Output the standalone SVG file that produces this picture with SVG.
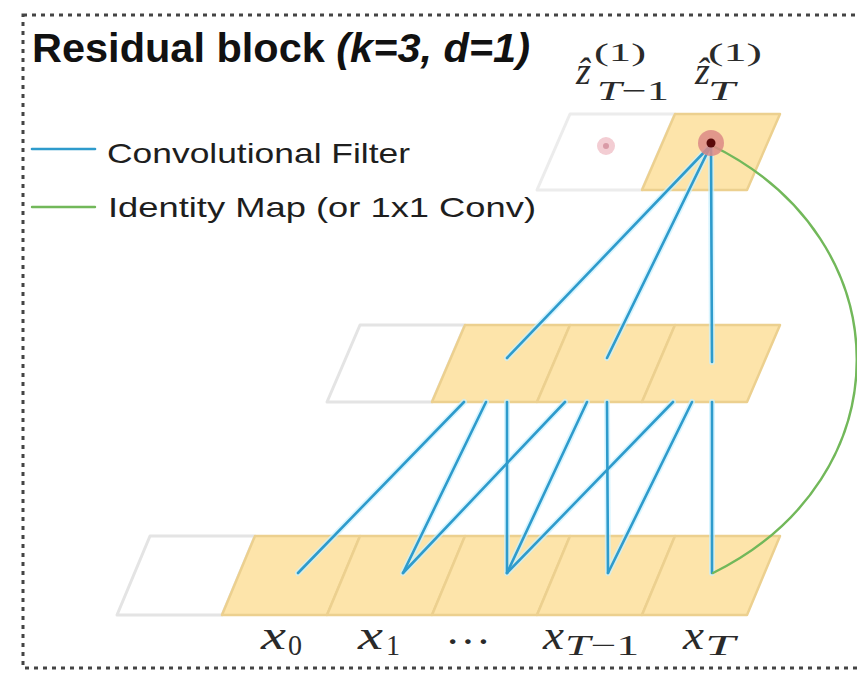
<svg xmlns="http://www.w3.org/2000/svg" width="857" height="677" viewBox="0 0 857 677">
  <style>
    .frame { fill: none; stroke: #444; stroke-width: 3; stroke-dasharray: 4 5; }
    .title { font-family: "Liberation Sans", Arial, sans-serif; font-weight: bold; font-size: 40px; fill: #111; }
    .legend { font-family: "Liberation Sans", Arial, sans-serif; font-size: 28px; fill: #1e1e1e; }
    .math { font-family: "Liberation Serif", "DejaVu Serif", serif; fill: #2a2a2a; }
    .it { font-style: italic; }
    .cell { fill: #fde4aa; stroke: #ecd08f; stroke-width: 2.5; stroke-linejoin: round; }
    .empty { fill: #ffffff; stroke: #e4e4e4; stroke-width: 3; stroke-linejoin: round; }
    .halo { fill: none; stroke: #c8f1ff; stroke-width: 6; stroke-linecap: round; opacity: 0.7; }
    .conv { fill: none; stroke: #2e9bcc; stroke-width: 2.6; stroke-linecap: round; }
    .ident { fill: none; stroke: #72b85a; stroke-width: 2.4; stroke-linecap: round; }
  </style>

  <rect class="frame" x="23" y="15" width="860" height="653"/>

  <g id="title">
    <text class="title" x="32" y="62" textLength="498" lengthAdjust="spacingAndGlyphs">Residual block <tspan font-style="italic">(k=3, d=1)</tspan></text>
  </g>

  <g id="legend">
    <line x1="32" y1="149" x2="95" y2="149" class="conv"/>
    <text class="legend" x="107" y="163" textLength="303" lengthAdjust="spacingAndGlyphs">Convolutional Filter</text>
    <line x1="32" y1="207" x2="95" y2="207" class="ident"/>
    <text class="legend" x="108" y="217" textLength="428" lengthAdjust="spacingAndGlyphs">Identity Map (or 1x1 Conv)</text>
  </g>

  <!-- top layer: z_hat outputs -->
  <g id="top-row">
    <g id="z_T-1">
      <polygon class="empty" points="570,114 675,114 642,190 537,190" style="stroke:#ececec"/>
      <circle cx="606" cy="146" r="9" fill="#f3cdd3"/>
      <circle cx="606" cy="146" r="3" fill="#d99aa6"/>
      <text class="math it" x="576" y="84" font-size="38">ẑ</text>
      <text class="math" x="594" y="61" font-size="26" textLength="52" lengthAdjust="spacingAndGlyphs">(1)</text>
      <text class="math" x="597" y="100" font-size="28" textLength="72" lengthAdjust="spacingAndGlyphs"><tspan font-style="italic">T</tspan>−1</text>
    </g>
    <g id="z_T">
      <polygon class="cell" points="675,114 780,114 747,190 642,190"/>
      <text class="math it" x="695" y="84" font-size="38">ẑ</text>
      <text class="math" x="708" y="61" font-size="26" textLength="54" lengthAdjust="spacingAndGlyphs">(1)</text>
      <text class="math it" x="708" y="100" font-size="28" textLength="27" lengthAdjust="spacingAndGlyphs">T</text>
    </g>
  </g>

  <!-- middle layer -->
  <g id="middle-row">
    <g id="h_pad"><polygon class="empty" points="360,325 465,325 432,402 327,402"/></g>
    <g id="h_T-2"><polygon class="cell" points="465,325 570,325 537,402 432,402"/></g>
    <g id="h_T-1"><polygon class="cell" points="570,325 675,325 642,402 537,402"/></g>
    <g id="h_T"><polygon class="cell" points="675,325 780,325 747,402 642,402"/></g>
  </g>

  <!-- bottom layer: inputs -->
  <g id="bottom-row">
    <g id="x_pad"><polygon class="empty" points="150,536 255,536 222,615 117,615"/></g>
    <g id="x_0">
      <polygon class="cell" points="255,536 360,536 327,615 222,615"/>
      <text class="math it" x="261" y="649" font-size="40" textLength="25" lengthAdjust="spacingAndGlyphs">x</text>
      <text class="math" x="288" y="655" font-size="29" textLength="14" lengthAdjust="spacingAndGlyphs">0</text>
    </g>
    <g id="x_1">
      <polygon class="cell" points="360,536 465,536 432,615 327,615"/>
      <text class="math it" x="358" y="649" font-size="40" textLength="25" lengthAdjust="spacingAndGlyphs">x</text>
      <text class="math" x="386" y="655" font-size="29" textLength="14" lengthAdjust="spacingAndGlyphs">1</text>
    </g>
    <g id="x_dots">
      <polygon class="cell" points="465,536 570,536 537,615 432,615"/>
      <text class="math" x="445" y="655" font-size="40" textLength="46" lengthAdjust="spacingAndGlyphs">···</text>
    </g>
    <g id="x_T-1">
      <polygon class="cell" points="570,536 675,536 642,615 537,615"/>
      <text class="math it" x="543" y="649" font-size="40" textLength="21" lengthAdjust="spacingAndGlyphs">x</text>
      <text class="math" x="565" y="655" font-size="29" textLength="74" lengthAdjust="spacingAndGlyphs"><tspan font-style="italic">T</tspan>−1</text>
    </g>
    <g id="x_T">
      <polygon class="cell" points="675,536 780,536 747,615 642,615"/>
      <text class="math it" x="683" y="649" font-size="40" textLength="21" lengthAdjust="spacingAndGlyphs">x</text>
      <text class="math it" x="705" y="655" font-size="29" textLength="30" lengthAdjust="spacingAndGlyphs">T</text>
    </g>
  </g>

  <g id="connectors">
    <g class="halos">
      <path class="halo" d="M711,145 L507,358 M711,145 L607,358 M711,145 L712,362"/>
      <path class="halo" d="M464,402 L298,573 M486,402 L403,573 M507,402 L507,573 M565,402 L403,573 M587,402 L507,573 M607,402 L608,573 M673,402 L507,573 M692,402 L608,573 M712,402 L712,573"/>
    </g>
    <line class="conv" x1="711" y1="145" x2="507" y2="358"/>
    <line class="conv" x1="711" y1="145" x2="607" y2="358"/>
    <line class="conv" x1="711" y1="145" x2="712" y2="362"/>
    <line class="conv" x1="464" y1="402" x2="298" y2="573"/>
    <line class="conv" x1="486" y1="402" x2="403" y2="573"/>
    <line class="conv" x1="507" y1="402" x2="507" y2="573"/>
    <line class="conv" x1="565" y1="402" x2="403" y2="573"/>
    <line class="conv" x1="587" y1="402" x2="507" y2="573"/>
    <line class="conv" x1="607" y1="402" x2="608" y2="573"/>
    <line class="conv" x1="673" y1="402" x2="507" y2="573"/>
    <line class="conv" x1="692" y1="402" x2="608" y2="573"/>
    <line class="conv" x1="712" y1="402" x2="712" y2="573"/>
    <path class="ident" d="M711,145 C905,240 905,478 713,573"/>
  </g>

  <g id="output-point">
    <circle cx="711" cy="143" r="13" fill="#dc8a86" opacity="0.85"/>
    <circle cx="711" cy="143" r="4.5" fill="#5a0a0a"/>
  </g>
</svg>
